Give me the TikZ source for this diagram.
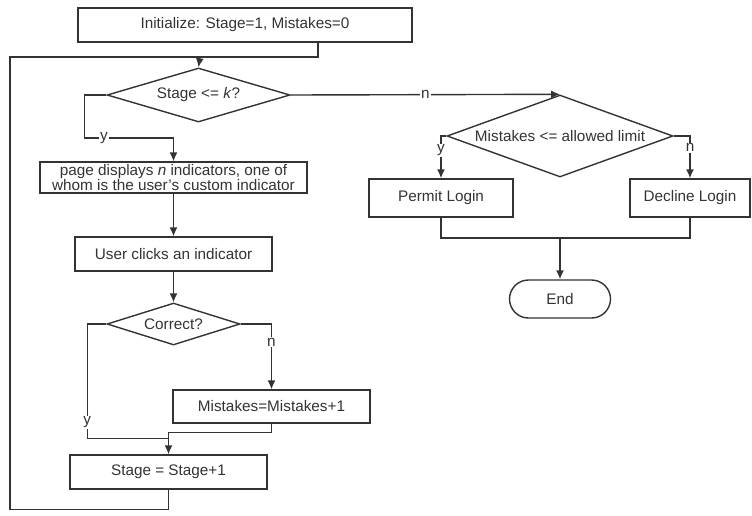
\documentclass[tikz,border=0pt]{standalone}
\usepackage{fontspec}
\setmainfont{Liberation Sans}
\usepackage{tikz}
\usetikzlibrary{shapes.geometric, arrows.meta, calc}

\newcommand{\flowfont}{\fontsize{15.3}{14.5}\selectfont}

\begin{document}
\begin{tikzpicture}[>={Latex[length=9pt,width=8pt]}, x=1pt, y=-1pt,
    line width=1.4pt, draw=black!80, text=black!80,
    box/.style={draw, rectangle, font=\flowfont, inner sep=0pt, align=center},
    decision/.style={draw, diamond, font=\flowfont, inner sep=0pt},
    terminal/.style={draw, rectangle, rounded corners=19pt, font=\flowfont, inner sep=0pt},
    lab/.style={fill=white, inner sep=1pt, font=\flowfont}]
    \useasboundingbox (0,0) rectangle (752,515);

    % 1. Khoi lenh ben trai
    \node[box, minimum width=334pt, minimum height=34pt] (init) at (245,25)
        {Initialize: Stage=1, Mistakes=0};
    \node[decision, minimum width=183pt, minimum height=54pt, aspect=3.4] (stage) at (198.5,95)
        {Stage <= \textit{k}?};
    \node[box, minimum width=267pt, minimum height=31pt] (page) at (173.5,177.5)
        {page displays \textit{n} indicators, one of\\whom is the user's custom indicator};
    \node[box, minimum width=197pt, minimum height=34pt] (user) at (173.5,254)
        {User clicks an indicator};
    \node[decision, minimum width=133pt, minimum height=42pt, aspect=3.2] (correct) at (173.5,324)
        {Correct?};
    \node[box, minimum width=197pt, minimum height=33pt] (mist) at (271.5,406.5)
        {Mistakes=Mistakes+1};
    \node[box, minimum width=197pt, minimum height=34pt] (inc) at (168.5,472)
        {Stage = Stage+1};

    % 2. Khoi lenh ben phai
    \node[decision, minimum width=226pt, minimum height=82pt, aspect=2.8] (limit) at (560,136)
        {Mistakes <= allowed limit};
    \node[box, minimum width=144pt, minimum height=38pt] (permit) at (441,198)
        {Permit Login};
    \node[box, minimum width=120pt, minimum height=38pt] (decline) at (690,198)
        {Decline Login};
    \node[terminal, minimum width=101pt, minimum height=38pt] (end) at (560,299)
        {End};

    % 3. Diem noi
    \coordinate (merge) at (200,57);
    \coordinate (back) at (10,57);
    \coordinate (ybend) at (173.5,138);
    \coordinate (meet) at (560,238);

    % 4. Duong noi
    \draw ([xshift=73pt]init.south) |- (merge);
    \draw[->] (merge) -- (stage.north);
    \draw[->] (stage.west) -- ++(-22,0) |- node[lab, pos=0.61] (ys) {y} (ybend) -- (page.north);
    \draw[->] (stage.east) -- node[lab, pos=0.5] (ns) {n} (limit.north);
    \draw[->] (page.south) -- (user.north);
    \draw[->] (user.south) -- (correct.north);
    \draw[->] (correct.east) -| node[lab, pos=0.64] (nc) {n} (mist.north);
    \draw (correct.west) -- ++(-19,0) |- node[lab, pos=0.43] (yc) {y} ([yshift=16pt]inc.north);
    \draw[->] (mist.south) -- ++(0,9) -| (inc.north);
    \draw (inc.south) -- ++(0,20) -| (back) -- (merge);

    \draw[->] (limit.west) -| node[lab, pos=0.67] (yl) {y} (permit.north);
    \draw[->] (limit.east) -| node[lab, pos=0.64] (nl) {n} (decline.north);
    \draw (permit.south) |- (meet);
    \draw (decline.south) |- (meet);
    \draw[->] (meet) -- (end.north);
\end{tikzpicture}
\end{document}
